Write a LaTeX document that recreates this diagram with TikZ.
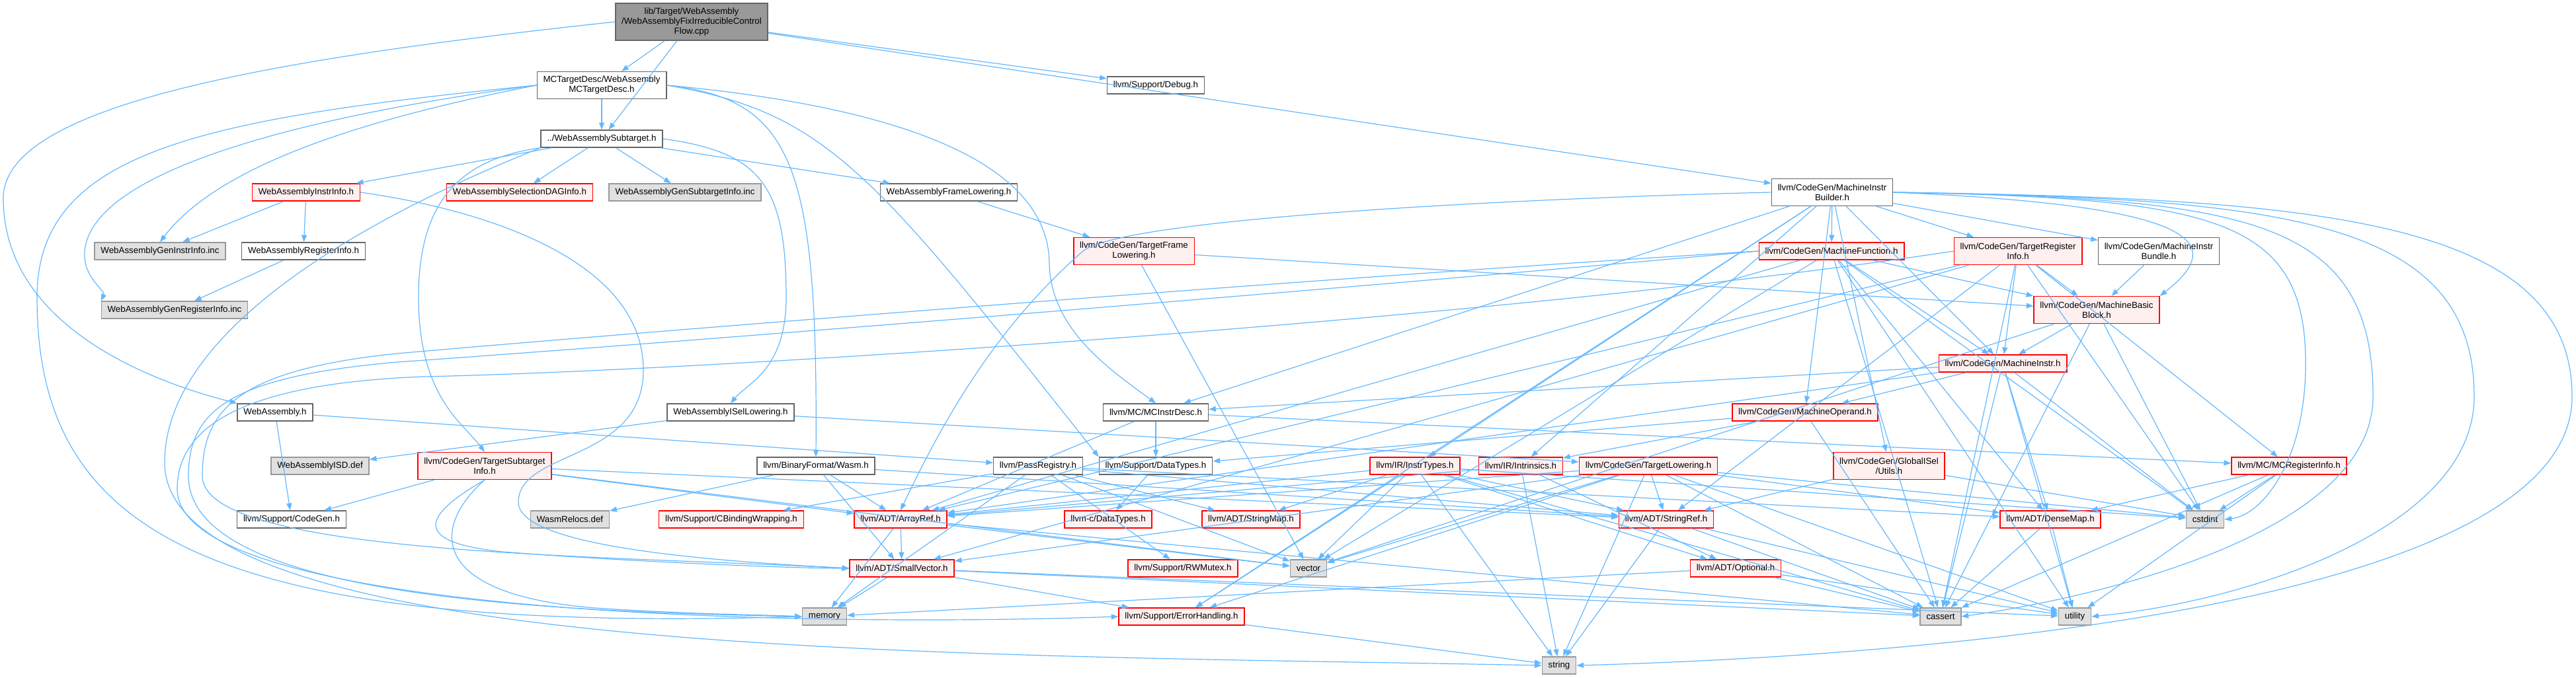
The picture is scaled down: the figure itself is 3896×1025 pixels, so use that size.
\documentclass[tikz,border=0pt]{standalone}
\usepackage{fontspec}
\setmainfont{Liberation Sans}
\usetikzlibrary{arrows.meta}
\definecolor{edgeblue}{HTML}{63B8FF}
\definecolor{truncfill}{HTML}{FFF0F0}
\definecolor{sysfill}{HTML}{E0E0E0}
\definecolor{rootfill}{HTML}{999999}
\definecolor{boxline}{HTML}{666666}
\definecolor{sysline}{HTML}{999999}

\begin{document}
\begin{tikzpicture}[x=0.75pt, y=-0.75pt, font=\fontsize{10}{11.25}\selectfont,
  hdr/.style={draw=boxline, fill=white, line width=1.1pt, inner xsep=7pt, inner ysep=0pt,
    minimum height=19.5pt, align=center},
  trunc/.style={hdr, draw=red, fill=truncfill},
  sys/.style={hdr, draw=sysline, fill=sysfill},
  srcbox/.style={hdr, draw=boxline, fill=rootfill},
  two/.style={minimum height=30.75pt},
  three/.style={minimum height=42pt},
  edge/.style={draw=edgeblue, line width=0.9pt, -{Triangle[length=8pt,width=6pt]}}]
  \useasboundingbox (0,0) rectangle (3896,1025);

  % top of the graph
  \node[srcbox, three] (root) at (1046,33) {lib/Target/WebAssembly\\/WebAssemblyFixIrreducibleControl\\Flow.cpp};
  \node[hdr, two] (mctd) at (910,129) {MCTargetDesc/WebAssembly\\MCTargetDesc.h};
  \node[hdr] (dbg) at (1748,129) {llvm/Support/Debug.h};
  \node[hdr] (sub) at (910,210) {../WebAssemblySubtarget.h};

  % target headers
  \node[trunc] (wii) at (463,291) {WebAssemblyInstrInfo.h};
  \node[trunc] (sdag) at (786,291) {WebAssemblySelectionDAGInfo.h};
  \node[sys] (gsi) at (1036,291) {WebAssemblyGenSubtargetInfo.inc};
  \node[hdr] (wfl) at (1435,291) {WebAssemblyFrameLowering.h};
  \node[hdr, two] (mib) at (2771,291) {llvm/CodeGen/MachineInstr\\Builder.h};
  \node[sys] (gii) at (242,380) {WebAssemblyGenInstrInfo.inc};
  \node[hdr] (wri) at (459,380) {WebAssemblyRegisterInfo.h};
  \node[trunc, two] (tfl) at (1715,380) {llvm/CodeGen/TargetFrame\\Lowering.h};
  \node[trunc] (mf) at (2770,380) {llvm/CodeGen/MachineFunction.h};
  \node[trunc, two] (tri) at (3052,380) {llvm/CodeGen/TargetRegister\\Info.h};
  \node[hdr, two] (mibundle) at (3265,380) {llvm/CodeGen/MachineInstr\\Bundle.h};
  \node[sys] (gri) at (264,469) {WebAssemblyGenRegisterInfo.inc};
  \node[trunc, two] (mbb) at (3171,469) {llvm/CodeGen/MachineBasic\\Block.h};
  \node[trunc] (mi) at (3029,550) {llvm/CodeGen/MachineInstr.h};
  \node[hdr] (wa) at (416,624) {WebAssembly.h};
  \node[hdr] (isel) at (1105,624) {WebAssemblyISelLowering.h};
  \node[hdr] (mcid) at (1748,624) {llvm/MC/MCInstrDesc.h};
  \node[trunc] (mo) at (2730,624) {llvm/CodeGen/MachineOperand.h};

  % llvm headers
  \node[sys] (isd) at (484,705) {WebAssemblyISD.def};
  \node[trunc, two] (tsi) at (733,705) {llvm/CodeGen/TargetSubtarget\\Info.h};
  \node[hdr] (wasm) at (1234,705) {llvm/BinaryFormat/Wasm.h};
  \node[hdr] (preg) at (1570,705) {llvm/PassRegistry.h};
  \node[hdr] (dtypes) at (1748,705) {llvm/Support/DataTypes.h};
  \node[trunc] (instrt) at (2140,705) {llvm/IR/InstrTypes.h};
  \node[trunc] (intr) at (2300,705) {llvm/IR/Intrinsics.h};
  \node[trunc] (tlow) at (2493,705) {llvm/CodeGen/TargetLowering.h};
  \node[trunc, two] (gisel) at (2857,705) {llvm/CodeGen/GlobalISel\\/Utils.h};
  \node[trunc] (mcri) at (3462,705) {llvm/MC/MCRegisterInfo.h};
  \node[hdr] (cgen) at (441,786) {llvm/Support/CodeGen.h};
  \node[sys] (wasmrel) at (862,786) {WasmRelocs.def};
  \node[trunc] (cbind) at (1106,786) {llvm/Support/CBindingWrapping.h};
  \node[trunc] (aref) at (1362,786) {llvm/ADT/ArrayRef.h};
  \node[trunc] (cdt) at (1676,786) {llvm-c/DataTypes.h};
  \node[trunc] (smap) at (1892,786) {llvm/ADT/StringMap.h};
  \node[trunc] (sref) at (2520,786) {llvm/ADT/StringRef.h};
  \node[trunc] (dmap) at (3101,786) {llvm/ADT/DenseMap.h};
  \node[sys] (cstdint) at (3335,786) {cstdint};
  \node[trunc] (svec) at (1364,860) {llvm/ADT/SmallVector.h};
  \node[trunc] (rwm) at (1789,860) {llvm/Support/RWMutex.h};
  \node[sys] (vector) at (1979,860) {vector};
  \node[trunc] (opt) at (2625,860) {llvm/ADT/Optional.h};
  \node[sys] (memory) at (1247,933) {memory};
  \node[trunc] (errh) at (1787,933) {llvm/Support/ErrorHandling.h};
  \node[sys] (cassert) at (2935,933) {cassert};
  \node[sys] (utility) at (3138,933) {utility};
  \node[sys] (string) at (2358,1007) {string};

  % includes, straight
  \foreach \a/\b in {root/mctd, root/sub, root/dbg, root/mib, mctd/sub,
      sub/wii, sub/sdag, sub/gsi, sub/wfl,
      wii/gii, wii/wri, wri/gri, wfl/tfl, tfl/mbb, tfl/vector,
      isel/isd, isel/tlow, wa/cgen, wa/preg,
      tsi/cgen, tsi/aref, tsi/sref, tsi/vector,
      wasm/wasmrel, wasm/aref, wasm/sref, wasm/svec,
      preg/cbind, preg/smap, preg/sref, preg/rwm, preg/dmap, preg/memory, preg/vector,
      dtypes/cdt, mcid/aref, mcid/dtypes, mcid/mcri,
      mib/mf, mib/tri, mib/mibundle, mib/mi, mib/mo, mib/instrt, mib/intr,
      mib/gisel, mib/errh, mib/mcid,
      mf/aref, mf/dmap, mf/mbb, mf/mi, mf/cassert, mf/cstdint,
      mf/utility, mf/vector,
      tri/aref, tri/svec, tri/sref, tri/mbb, tri/mcri, tri/cassert,
      tri/cstdint, tri/mi, mibundle/mbb,
      mbb/mi, mbb/cassert, mbb/cstdint, mbb/vector,
      mi/mo, mi/mcid, mi/dmap, mi/cassert, mi/cstdint, mi/utility, mi/aref,
      mo/intr, mo/dtypes, mo/cassert, gisel/sref, gisel/cstdint,
      instrt/aref, instrt/opt, instrt/smap, instrt/sref, instrt/errh, instrt/cassert,
      instrt/cstdint, instrt/string, instrt/vector,
      intr/aref, intr/opt, intr/string,
      tlow/aref, tlow/dmap, tlow/svec, tlow/sref, tlow/errh, tlow/cassert,
      tlow/cstdint, tlow/string, tlow/utility, tlow/vector,
      mcri/dmap, mcri/cassert, mcri/cstdint, mcri/utility,
      aref/svec, aref/memory, aref/vector, aref/cassert,
      svec/memory, svec/errh, svec/cassert, svec/utility,
      sref/string, sref/cassert, sref/utility,
      opt/cassert, opt/utility, opt/memory, dmap/cassert, dmap/utility, errh/string}
    \draw[edge] (\a) -- (\b);

  % includes from the top rows, bent
  \draw[edge] (mctd.east) .. controls (1200,150) and (1237,250) .. (wasm.north);
  \draw[edge] (mctd.east) .. controls (1250,170) and (1320,260) .. (dtypes.north west);
  \draw[edge] (mctd.east) .. controls (1450,170) and (1587,280) .. (1587,400)
    .. controls (1590,500) and (1680,560) .. (mcid.north);
  \draw[edge] (sub.east) .. controls (1150,230) and (1189,280) .. (1189,450)
    .. controls (1189,560) and (1130,580) .. (isel.north);
  \draw[edge] (sub.south west) .. controls (700,240) and (633,300) .. (633,450)
    .. controls (633,600) and (700,640) .. (tsi.north);
  \draw[edge] (wii.east) .. controls (750,320) and (973,400) .. (973,560)
    .. controls (973,700) and (784,680) .. (784,760)
    .. controls (784,830) and (1100,850) .. (svec.west);
  \draw[edge] (tsi.south) .. controls (640,780) and (620,820) .. (760,835)
    .. controls (950,850) and (1200,860) .. (svec.west);
  \draw[edge] (tsi.south) .. controls (650,800) and (650,900) .. (900,920)
    .. controls (1050,930) and (1150,930) .. (memory.west);

  % includes routed round the left side
  \draw[edge] (root.west) .. controls (400,90) and (5,160) .. (5,300)
    .. controls (5,480) and (200,570) .. (wa.north west);
  \draw[edge] (mctd.west) .. controls (500,170) and (140,250) .. (128,380)
    .. controls (125,420) and (160,440) .. (gri.north west);
  \draw[edge] (mctd.west) .. controls (550,180) and (330,250) .. (gii.north);
  \draw[edge] (mctd.west) .. controls (300,180) and (56,230) .. (56,450)
    .. controls (56,800) and (300,960) .. (memory.west);
  \draw[edge] (sub.south west) .. controls (550,330) and (249,500) .. (249,700)
    .. controls (249,1000) and (1500,990) .. (string.west);
  \draw[edge] (mf.west) .. controls (2000,420) and (1000,500) .. (600,535)
    .. controls (360,560) and (306,620) .. (306,720)
    .. controls (306,840) and (900,840) .. (svec.west);
  \draw[edge] (mf.west) .. controls (2000,440) and (1000,520) .. (600,548)
    .. controls (350,570) and (285,620) .. (285,720)
    .. controls (285,900) and (800,925) .. (memory.west);
  \draw[edge] (tri.west) .. controls (2300,480) and (1100,560) .. (640,570)
    .. controls (380,580) and (268,640) .. (268,740)
    .. controls (268,930) and (1200,950) .. (errh.west);
  \draw[edge] (mib.west) .. controls (2300,300) and (1700,330) .. (1638,380)
    .. controls (1500,500) and (1420,650) .. (aref.north);

  % includes routed round the right side
  \draw[edge] (mib.east) .. controls (3300,310) and (3380,360) .. (mbb.north east);
  \draw[edge] (mib.east) .. controls (3350,300) and (3487,330) .. (3487,550)
    .. controls (3487,700) and (3420,780) .. (cstdint.east);
  \draw[edge] (mib.east) .. controls (3400,300) and (3589,330) .. (3589,600)
    .. controls (3589,800) and (3200,900) .. (cassert.east);
  \draw[edge] (mib.east) .. controls (3450,300) and (3742,330) .. (3742,600)
    .. controls (3742,800) and (3400,910) .. (utility.east);
  \draw[edge] (mib.east) .. controls (3500,300) and (3890,330) .. (3890,600)
    .. controls (3890,900) and (3000,990) .. (string.east);
\end{tikzpicture}
\end{document}
